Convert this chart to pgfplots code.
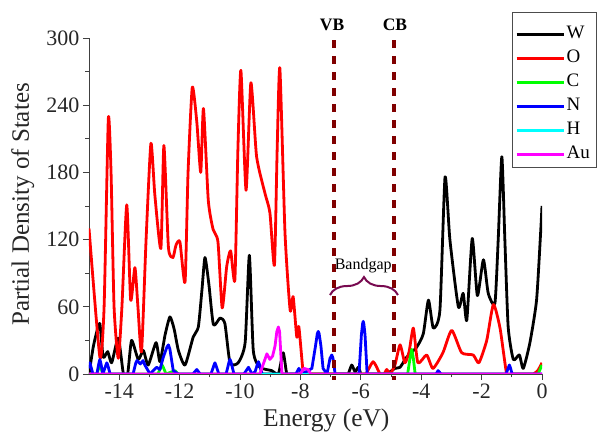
\documentclass[border=0pt]{standalone}
\usepackage{pgfplots}
\pgfplotsset{compat=1.18}
\usepackage{fontspec}
\setmainfont{Liberation Serif}
\usetikzlibrary{decorations.pathreplacing}
\definecolor{vbc}{RGB}{128,0,0}
\definecolor{brc}{RGB}{120,10,80}
\definecolor{cgreen}{RGB}{0,255,0}
\definecolor{cred}{RGB}{255,0,0}
\definecolor{cblue}{RGB}{0,0,255}
\definecolor{ccyan}{RGB}{0,255,255}
\definecolor{cmag}{RGB}{255,0,255}
\begin{document}
\begin{tikzpicture}
\path[use as bounding box] (-89pt,-61pt) rectangle (508pt,374pt);
\begin{axis}[
  at={(0,0)}, anchor=south west,
  scale only axis, width=453pt, height=336pt,
  xmin=-15, xmax=0, ymin=0, ymax=300,
  axis x line*=bottom, axis y line*=left,
  axis line style={draw=black!75, line width=0.8pt, -},
  xtick={-14,-12,...,0}, ytick={0,60,...,300},
  minor x tick num=1, minor y tick num=1,
  tick align=outside, major tick length=6pt, minor tick length=3.5pt,
  every tick/.style={black!75, line width=0.8pt},
  /pgf/number format/assume math mode=true,
  tick label style={font=\fontsize{22}{22}\selectfont, text=black!85},
  xlabel={Energy (eV)}, ylabel={Partial Density of States},
  label style={text=black!85},
  xlabel style={font=\fontsize{25.5}{25.5}\selectfont, at={(axis description cs:0.524,-0.137)}, anchor=center},
  ylabel style={font=\fontsize{25}{25}\selectfont, at={(axis description cs:-0.146,0.505)}, anchor=center},
  clip mode=individual,
  every axis plot/.append style={line width=2.8pt, line join=round},
  legend image code/.code={\draw[#1, line width=2.8pt, sharp plot] (0pt,0pt) -- (47pt,0pt);},
  legend cell align=left,
  legend style={at={(rel axis cs:0.934,1.0536)}, anchor=north west, draw=none, fill=none,
    font=\fontsize{19}{19}\selectfont, inner xsep=3pt, inner ysep=4pt, row sep=4pt,
    nodes={inner sep=1.5pt, text height=13pt, text depth=4pt, anchor=west}},
]
% W
\addplot[black, smooth, tension=0.35] coordinates {
(-15.00,0) (-14.86,24) (-14.74,38) (-14.64,45) (-14.53,15) (-14.38,20) (-14.25,10) (-14.03,32)
(-13.86,0) (-13.72,0) (-13.59,30) (-13.37,13) (-13.20,21) (-13.04,8) (-12.78,28) (-12.65,11)
(-12.48,35) (-12.32,51) (-12.18,40) (-12.04,21) (-11.82,8) (-11.55,33) (-11.38,42) (-11.26,75)
(-11.16,104) (-11.03,80) (-10.88,44) (-10.66,50) (-10.50,45) (-10.33,10) (-10.06,10) (-9.83,28)
(-9.69,106) (-9.56,21) (-9.34,6) (-8.95,3) (-8.73,0) (-8.57,19) (-8.45,0) (-8.30,0) (-6.55,0)
(-6.42,0) (-6.30,8) (-6.19,2) (-6.08,6) (-5.99,0) (-5.85,0) (-5.30,0) (-5.14,0) (-4.87,5) (-4.70,6)
(-4.48,15) (-4.15,24) (-3.93,36)
(-3.76,66) (-3.60,41) (-3.38,57) (-3.21,176) (-3.05,120) (-2.77,60) (-2.61,72) (-2.49,48)
(-2.31,121) (-2.14,70) (-1.94,102) (-1.78,72) (-1.56,63) (-1.45,120) (-1.33,194) (-1.23,120)
(-1.12,42) (-0.95,13) (-0.75,17) (-0.62,5) (-0.40,28) (-0.18,66) (-0.04,129) (0.00,150)
};
\addlegendentry{W}
% O
\addplot[cred, smooth, tension=0.35] coordinates {
(-15.00,130) (-14.64,15) (-14.50,60) (-14.36,228) (-14.27,180) (-14.17,60) (-14.03,14) (-13.91,60)
(-13.75,151) (-13.62,66) (-13.48,95) (-13.38,60) (-13.26,20) (-13.11,120) (-12.95,206) (-12.82,160)
(-12.62,112) (-12.52,204) (-12.37,113) (-12.22,104) (-12.12,115) (-11.99,118) (-11.82,82) (-11.72,180)
(-11.58,256) (-11.43,225) (-11.30,180) (-11.21,237) (-11.05,155) (-10.89,129) (-10.73,118) (-10.59,59)
(-10.44,96) (-10.31,110) (-10.17,84) (-10.07,200) (-9.97,271) (-9.80,164) (-9.64,260) (-9.45,194)
(-9.17,161) (-9.01,144) (-8.86,97) (-8.77,200) (-8.68,273) (-8.51,126) (-8.34,57) (-8.24,69)
(-8.12,33) (-8.05,42) (-7.90,0) (-7.75,0) (-6.00,0) (-5.83,0) (-5.59,11) (-5.36,0) (-5.23,0)
(-5.14,4) (-5.03,0) (-4.87,8) (-4.70,26) (-4.54,10) (-4.40,20) (-4.26,41) (-4.11,10) (-3.82,17)
(-3.61,5) (-3.28,19) (-2.99,39) (-2.66,19) (-2.28,17) (-2.09,10) (-1.83,30) (-1.61,62) (-1.39,41)
(-1.17,0) (-1.02,0) (-0.45,0) (-0.29,0) (-0.14,3) (0.00,10)
};
\addlegendentry{O}
% C
\addplot[cgreen] coordinates {
(-15.00,0) (-14.74,0) (-14.68,5) (-14.64,8) (-14.60,5) (-14.54,0) (-12.72,0) (-12.62,6) (-12.58,8)
(-12.54,6) (-12.45,0) (-12.15,3) (-12.05,0) (-4.45,0) (-4.37,14) (-4.31,22) (-4.26,14) (-4.20,0)
(-0.13,0) (0.00,8)
};
\addlegendentry{C}
% N
\addplot[cblue] coordinates {
(-15.00,5) (-14.97,10) (-14.87,0) (-14.74,0) (-14.67,10) (-14.64,13) (-14.61,10) (-14.54,0)
(-14.44,8) (-14.41,10) (-14.38,8) (-14.30,0)
(-13.54,0) (-13.45,10) (-13.41,12) (-13.30,9) (-13.21,12) (-13.15,8) (-12.98,0) (-12.76,6) (-12.65,4)
(-12.54,15) (-12.42,24) (-12.37,26) (-12.32,22) (-12.21,3) (-12.05,0) (-11.56,0) (-11.43,4)
(-11.32,0) (-10.96,0) (-10.86,8) (-10.83,10) (-10.80,8) (-10.70,0)
(-10.46,0) (-10.36,11) (-10.33,13) (-10.30,11) (-10.20,0) (-9.87,0) (-9.72,6) (-9.60,0) (-9.50,2)
(-9.42,9) (-9.39,11) (-9.36,9) (-9.27,0)
(-8.15,0) (-8.05,5) (-7.95,0) (-7.75,3) (-7.62,5) (-7.50,25) (-7.44,36) (-7.41,38) (-7.38,36)
(-7.32,25) (-7.25,5) (-7.12,0) (-7.02,14) (-6.96,17) (-6.92,14)
(-6.85,0) (-6.06,0) (-5.98,35) (-5.94,45) (-5.92,47) (-5.90,45) (-5.86,35) (-5.79,0) (-3.51,0)
(-3.44,3) (-3.34,0) (-1.19,0) (-1.11,6) (-1.08,8) (-1.05,6) (-0.99,0) (0.00,0)
};
\addlegendentry{N}
% H
\addplot[ccyan] coordinates {(-15.00,0) (0.00,0)};
\addlegendentry{H}
% Au
\addplot[cmag] coordinates {
(-15.00,0) (-9.34,0) (-9.24,8) (-9.11,18) (-9.01,13) (-8.92,16) (-8.84,25) (-8.78,38) (-8.73,42)
(-8.69,38) (-8.61,0) (-8.01,0) (-7.88,5) (-7.75,4) (-7.65,0) (0.00,0)
};
\addlegendentry{Au}
% legend frame
\draw[black!70, line width=0.8pt] (rel axis cs:0.934,1.0774) rectangle (rel axis cs:1.1203,0.616);
% VB / CB markers
\draw[vbc, line width=3.5pt, dash pattern=on 8pt off 8pt] (axis cs:-6.88,298) -- (axis cs:-6.88,-5);
\draw[vbc, line width=3.5pt, dash pattern=on 8pt off 8pt] (axis cs:-4.90,298) -- (axis cs:-4.90,-5);
\node[font=\bfseries\fontsize{17.5}{17.5}\selectfont] at (axis cs:-6.95,311.6) {VB};
\node[font=\bfseries\fontsize{17.5}{17.5}\selectfont] at (axis cs:-4.87,311.6) {CB};
\draw[brc, line width=2pt, decorate, decoration={brace, amplitude=18pt}] (axis cs:-7.02,70.5) -- (axis cs:-4.77,70.5);
\node[font=\fontsize{16}{16}\selectfont] at (axis cs:-5.92,97) {Bandgap};
\end{axis}
\end{tikzpicture}
\end{document}
